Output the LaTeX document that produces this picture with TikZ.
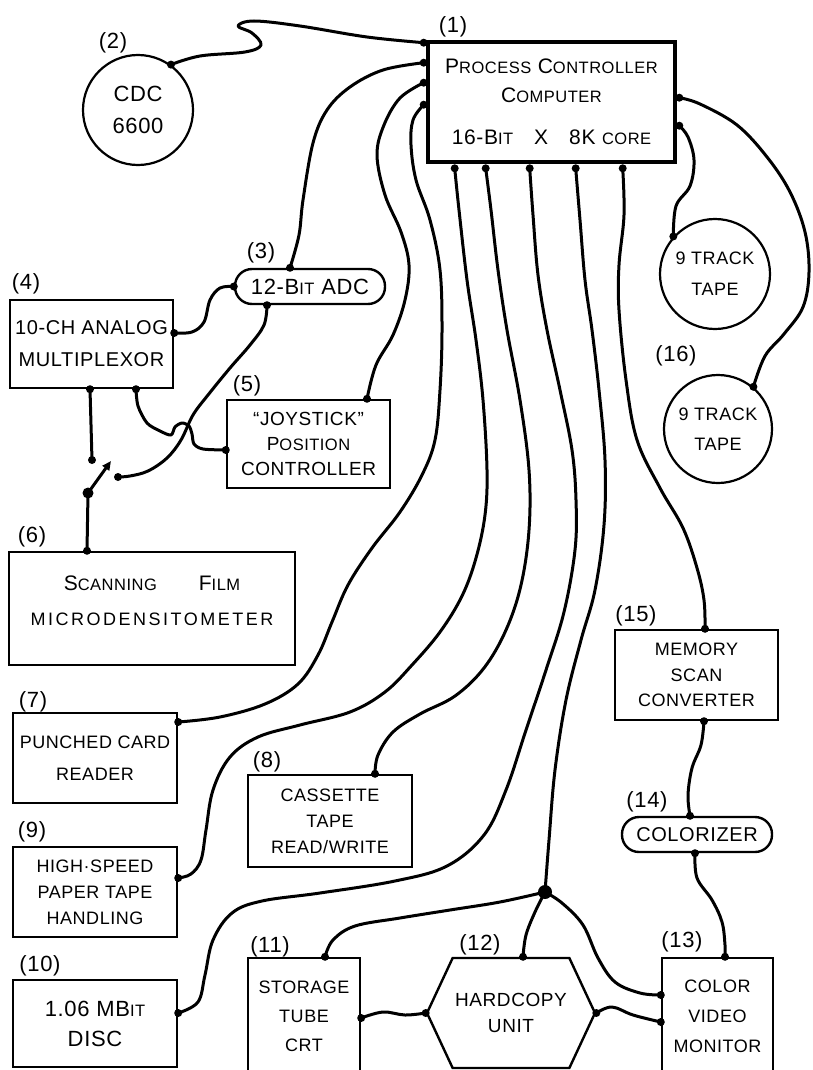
\documentclass[tikz,border=0pt]{standalone}
\usepackage{fontspec}
\setmainfont{Liberation Sans}[LetterSpace=3]
\usetikzlibrary{shapes.symbols,arrows.meta}
\newcommand\Bg{\fontsize{22}{30}\selectfont}
\newcommand\Md{\fontsize{18}{26}\selectfont}
\newcommand\Sm[1]{{\fontsize{16.5}{20}\selectfont #1}}
\newcommand\mydot[1]{\fill (#1) circle[radius=4pt];}
\begin{document}
\begin{tikzpicture}[x=1pt,y=-1pt,
  box/.style={draw, line width=2.4pt, inner sep=0pt, align=center, font=\Md},
  rbox/.style={box, rounded corners=17pt},
  disk/.style={draw, circle, line width=2.2pt, inner sep=0pt, align=center, font=\Md},
  wire/.style={line width=3pt, line cap=round, line join=round},
  lbl/.style={inner sep=0pt, font=\Bg}]
\useasboundingbox (0,0) rectangle (812,1070);
\fill[white] (0,0) rectangle (812,1070);
\clip (0,0) rectangle (812,1070);

% ---------- nodes ----------
\node[box, line width=4.6pt, minimum width=247pt, minimum height=120pt, font=\fontsize{21}{29}\selectfont] (comp) at (551.5,102)
  {P\Sm{ROCESS} C\Sm{ONTROLLER}\\C\Sm{OMPUTER}\\[13pt]16-B\Sm{IT}\quad X\quad 8K \Sm{CORE}};
\node[disk, minimum size=110pt, font=\fontsize{22}{32}\selectfont] (cdc) at (138,110) {CDC\\6600};
\node[rbox, minimum width=150pt, minimum height=35pt, font=\Bg] (adc) at (310,286.5) {12-B\Sm{IT} ADC};
\node[box, minimum width=163pt, minimum height=88pt, font=\fontsize{20}{32}\selectfont] (mux) at (91.5,344) {10-CH ANALOG\\MULTIPLEXOR};
\node[box, minimum width=163pt, minimum height=88pt, font=\fontsize{19}{25}\selectfont] (joy) at (308.5,444) {“JOYSTICK”\\P\Sm{OSITION}\\CONTROLLER};
\node[box, minimum width=286pt, minimum height=113pt, font=\fontsize{21}{35}\selectfont] (scan) at (152,608.5)
  {S\Sm{CANNING}\qquad F\Sm{ILM}\\{\fontsize{18}{20}\selectfont\addfontfeature{LetterSpace=14}MICRODENSITOMETER}\\[-19pt]};
\node[box, minimum width=164pt, minimum height=90pt, font=\fontsize{18}{32}\selectfont] (punch) at (95,758) {PUNCHED CARD\\READER};
\node[box, minimum width=164pt, minimum height=90pt] (hspt) at (95,892) {HIGH·SPEED\\PAPER TAPE\\HANDLING};
\node[box, minimum width=164pt, minimum height=87pt, font=\Bg] (disc) at (95,1023.5) {1.06 MB\Sm{IT}\\DISC};
\node[box, minimum width=164pt, minimum height=92pt] (cass) at (330,821) {CASSETTE\\TAPE\\READ/WRITE};
\node[box, minimum width=112pt, minimum height=117pt, font=\fontsize{18}{29}\selectfont] (stor) at (304,1016.5) {STORAGE\\TUBE\\CRT};
\node[draw, signal, signal to=west and east, signal pointer angle=130, minimum width=168pt, minimum height=110pt,
  line width=2.4pt, inner sep=0pt, align=center, font=\fontsize{19}{26}\selectfont] (hard) at (511,1013) {HARDCOPY\\UNIT};
\node[box, minimum width=111pt, minimum height=117pt, font=\fontsize{18}{30}\selectfont] (mon) at (717.5,1016.5) {COLOR\\VIDEO\\MONITOR};
\node[box, minimum width=163pt, minimum height=90pt, font=\fontsize{18}{25.5}\selectfont] (mem) at (696.5,675) {MEMORY\\SCAN\\CONVERTER};
\node[rbox, minimum width=150pt, minimum height=35pt, font=\fontsize{20}{24}\selectfont] (colz) at (697,834.5) {COLORIZER};
\node[disk, minimum size=110pt, font=\fontsize{18}{31}\selectfont] (tapeA) at (715,274) {9 TRACK\\TAPE};
\node[disk, minimum size=108pt, font=\fontsize{18}{30}\selectfont] (tapeB) at (718,429) {9 TRACK\\TAPE};

% ---------- labels ----------
\node[lbl] (l1) at (453,27) {(1)};
\node[lbl] (l2) at (113,43) {(2)};
\node[lbl] (l3) at (261,253) {(3)};
\node[lbl] (l4) at (26,284) {(4)};
\node[lbl] (l5) at (247,386) {(5)};
\node[lbl] (l6) at (32,537) {(6)};
\node[lbl] (l7) at (33,702) {(7)};
\node[lbl] (l8) at (267,762) {(8)};
\node[lbl] (l9) at (32,832) {(9)};
\node[lbl] (l10) at (40,966) {(10)};
\node[lbl] (l11) at (270,947) {(11)};
\node[lbl] (l12) at (480,945) {(12)};
\node[lbl] (l13) at (682,942) {(13)};
\node[lbl] (l14) at (647,802) {(14)};
\node[lbl] (l15) at (636,616) {(15)};
\node[lbl] (l16) at (676,356) {(16)};

% ---------- connection points ----------
\coordinate (cL1) at ([xshift=-2pt,yshift=-3pt]comp.north west);
\coordinate (cL2) at ([xshift=-2pt,yshift=-23pt]comp.north west);
\coordinate (cL3) at ([xshift=-2pt,yshift=-43pt]comp.north west);
\coordinate (cL4) at ([xshift=-2pt,yshift=-65pt]comp.north west);
\coordinate (cR1) at ([xshift=2pt,yshift=-58pt]comp.north east);
\coordinate (cR2) at ([xshift=2pt,yshift=-86pt]comp.north east);
\coordinate (cB1) at ([xshift=29pt,yshift=-4pt]comp.south west);
\coordinate (cB2) at ([xshift=60pt,yshift=-4pt]comp.south west);
\coordinate (cB3) at ([xshift=104pt,yshift=-4pt]comp.south west);
\coordinate (cB4) at ([xshift=150pt,yshift=-4pt]comp.south west);
\coordinate (cB5) at ([xshift=197pt,yshift=-4pt]comp.south west);
\coordinate (adcT) at ([xshift=-20pt]adc.north);
\coordinate (adcB) at ([xshift=-43pt]adc.south);
\coordinate (muxR) at ([yshift=11pt]mux.east);
\coordinate (muxB1) at ([xshift=-1.5pt]mux.south);
\coordinate (muxB2) at ([xshift=44.5pt]mux.south);
\coordinate (joyT) at ([xshift=58.5pt]joy.north);
\coordinate (joyL) at ([yshift=-6pt]joy.west);
\coordinate (scanT) at ([xshift=-65pt]scan.north);
\coordinate (punchR) at ([yshift=36pt]punch.east);
\coordinate (hsptR) at ([yshift=14pt]hspt.east);
\coordinate (discR) at ([yshift=10.5pt]disc.east);
\coordinate (cassT) at ([xshift=45pt]cass.north);
\coordinate (storT) at ([xshift=21pt]stor.north);
\coordinate (storR) at ([yshift=-1.5pt]stor.east);
\coordinate (hardT) at ([xshift=12pt]hard.north);
\coordinate (monT) at ([xshift=7.5pt]mon.north);
\coordinate (monL1) at ([yshift=21.5pt]mon.west);
\coordinate (monL2) at ([yshift=-5.5pt]mon.west);
\coordinate (memT) at ([xshift=8.5pt]mem.north);
\coordinate (memB) at ([xshift=7.5pt]mem.south);
\coordinate (colzT) at ([xshift=-7pt]colz.north);
\coordinate (colzB) at ([xshift=-2pt]colz.south);
\coordinate (junc) at (545,892);
\coordinate (sw1) at (92,460);
\coordinate (sw2) at (118,477);
\coordinate (pivot) at (88,493);
\coordinate (swtip) at (111,461);

% ---------- wires ----------
\begin{scope}[wire]
\draw plot[smooth,tension=0.6] coordinates {(cdc.54) (200,56) (245,52) (261,45) (252,33) (238,26) (254,21) (300,26) (367,37) (cL1)};
\draw plot[smooth,tension=0.6] coordinates {(cL2) (383,70) (350,87) (327,110) (313,143) (303,200) (299,235) (adcT)};
\draw plot[smooth,tension=0.6] coordinates {(cL3) (400,98) (384,125) (377,155) (385,195) (401,232) (409,265) (405,300) (393,335) (376,365) (joyT)};
\draw plot[smooth,tension=0.6] coordinates {(cL4) (413,120) (411,145) (416,180) (430,220) (440,270) (442,330) (440,390) (435,440) (422,475) (400,512) (372,548) (348,585) (332,622) (318,655) (298,684) (265,704) (220,717) (punchR)};
\draw plot[smooth,tension=0.6] coordinates {(cB1) (459,210) (467,280) (476,340) (483,400) (487,470) (485,515) (476,558) (462,596) (440,632) (412,665) (385,692) (350,712) (300,725) (258,737) (230,757) (213,790) (206,830) (201,860) (191,874) (hsptR)};
\draw plot[smooth,tension=0.6] coordinates {(cB2) (491,210) (498,270) (507,330) (520,400) (529,470) (529,530) (521,585) (506,630) (484,668) (455,696) (420,714) (393,732) (378,755) (cassT)};
\draw plot[smooth,tension=0.6] coordinates {(cB3) (533,215) (538,275) (547,330) (560,390) (572,450) (576,500) (575,550) (564,612) (546,670) (526,730) (506,790) (484,835) (447,866) (395,881) (320,893) (262,901) (232,913) (213,940) (205,975) (198,1002) (discR)};
\draw plot[smooth,tension=0.6] coordinates {(cB4) (580,220) (585,280) (592,330) (599,390) (605,460) (604,525) (595,590) (581,640) (566,700) (555,770) (549,840) (junc)};
\draw plot[smooth,tension=0.6] coordinates {(cB5) (624,215) (619,265) (619,310) (626,380) (637,440) (660,488) (683,528) (697,568) (704,600) (memT)};
\draw plot[smooth,tension=0.6] coordinates {(memB) (701,745) (692,768) (688,795) (colzT)};
\draw plot[smooth,tension=0.6] coordinates {(colzB) (697,878) (712,900) (722,922) (725,945) (monT)};
\draw plot[smooth,tension=0.6] coordinates {(junc) (500,902) (450,910) (400,918) (355,926) (333,940) (storT)};
\draw plot[smooth,tension=0.6] coordinates {(junc) (535,912) (526,935) (hardT)};
\draw plot[smooth,tension=0.6] coordinates {(junc) (562,903) (583,925) (598,958) (615,982) (640,993) (monL1)};
\draw plot[smooth,tension=0.6] coordinates {(storR) (383,1012) (405,1015) (hard.west)};
\draw plot[smooth,tension=0.6] coordinates {(hard.east) (612,1007) (633,1015) (monL2)};
\draw plot[smooth,tension=0.6] coordinates {(cR1) (700,104) (737,125) (767,157) (790,192) (805,232) (809,272) (803,307) (784,334) (765,356) (tapeB.50)};
\draw plot[smooth,tension=0.6] coordinates {(cR2) (688,137) (694,160) (690,186) (676,206) (tapeA.138)};
\draw plot[smooth,tension=0.6] coordinates {(muxR) (192,332) (204,322) (210,300) (220,288) (adc.west)};
\draw plot[smooth,tension=0.6] coordinates {(adcB) (264,325) (250,345) (230,368) (208,395) (193,415) (181,440) (167,458) (148,471) (130,476) (sw2)};
\draw plot[smooth,tension=0.5] coordinates {(muxB2) (138,406) (147,423) (160,431) (171,435) (175,427) (182,423) (189,426) (192,434) (194,444) (203,449) (joyL)};
\draw (muxB1) -- (sw1);
\draw (pivot) -- (scanT);
\draw[-{Triangle[length=9pt,width=8pt]}] (pivot) -- (swtip);
\end{scope}

% ---------- dots ----------
\foreach \p in {cL1,cL2,cL3,cL4,cR1,cR2,cB1,cB2,cB3,cB4,cB5,cdc.54,adcT,adc.west,adcB,muxR,muxB1,muxB2,
  joyT,joyL,sw1,sw2,scanT,punchR,hsptR,discR,cassT,storT,storR,hardT,hard.west,hard.east,monT,monL1,monL2,
  memT,memB,colzT,colzB,tapeA.138,tapeB.50} {\mydot{\p}}
\fill (pivot) circle[radius=5.5pt];
\fill (junc) circle[radius=7pt];
\end{tikzpicture}
\end{document}
